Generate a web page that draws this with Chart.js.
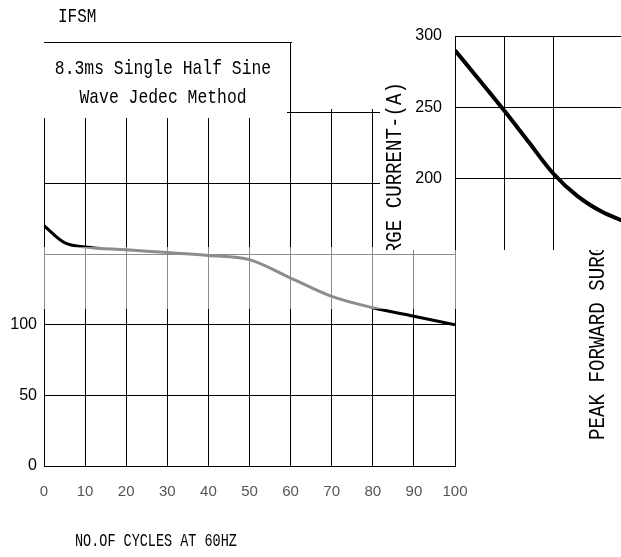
<!DOCTYPE html>
<html>
<head>
<meta charset="utf-8">
<script src="https://cdn.jsdelivr.net/npm/chart.js@4.4.1/dist/chart.umd.min.js"></script>
<style>
	html, body { margin: 0; padding: 0; background: #fff; }
	#wrap { position: relative; width: 621px; height: 557px; overflow: hidden; }
	#main { position: absolute; left: 0; top: 0; }
	#insetBox { position: absolute; left: 380px; top: 0; width: 241px; height: 250px; overflow: hidden; }
</style>
</head>
<body>
<div id="wrap">
	<canvas id="main" width="621" height="557"></canvas>
	<div id="insetBox"><canvas id="inset" width="241" height="273"></canvas></div>
</div>
<script>
const cycles = [0, 5, 10, 20, 30, 40, 50, 60, 70, 80, 90, 100]
const surge = [170, 158, 155, 153, 151, 149, 146, 133, 120, 112, 106, 100]
const yShown = [0, 50, 100] // only these labels survive on the left axis

// upper right piece
const insetCycles = [1, 2, 2.5, 3, 3.5, 4, 4.4]
const insetSurge = [290, 248, 226, 204, 188, 177, 171]
const insetYShown = [200, 250, 300]

const boxLines = ['8.3ms Single Half Sine', 'Wave Jedec Method']
const yTitle = 'PEAK FORWARD SURGE CURRENT-(A)'
const xTitle = 'NO.OF CYCLES AT 60HZ'
const topLabel = 'IFSM'

const mono = 'Liberation Mono'
const sans = 'Liberation Sans'

// narrow serif text like the scanned sheet
function narrowText(ctx, text, x, y, size, squeeze, align, angle) {
	ctx.save()
	ctx.translate(x, y)
	if (angle) ctx.rotate(angle)
	ctx.scale(squeeze, 1)
	ctx.font = size + 'px "' + mono + '"'
	ctx.fillStyle = '#000'
	ctx.textAlign = align
	ctx.textBaseline = 'middle'
	ctx.fillText(text, 0, 0)
	ctx.restore()
}

const mainDecor = {
	id: 'mainDecor',
	beforeDatasetsDraw(chart) {
		const ctx = chart.ctx
		ctx.save()
		ctx.fillStyle = '#fff'
		ctx.fillRect(40, 43, 247, 75) // note box
		ctx.fillRect(292, 38, 90, 71) // blank corner next to it
		ctx.restore()
		narrowText(ctx, boxLines[0], 163, 68, 21, 0.78, 'center')
		narrowText(ctx, boxLines[1], 163, 97, 21, 0.78, 'center')
	},
	afterDatasetsDraw(chart) {
		const ctx = chart.ctx
		ctx.save()
		ctx.fillStyle = 'rgba(255,255,255,0.55)' // faded band across the middle
		ctx.fillRect(0, 247, 621, 62)
		ctx.restore()
	},
	afterDraw(chart) {
		const ctx = chart.ctx
		narrowText(ctx, yTitle, 598, 440, 22, 0.87, 'left', -Math.PI / 2)
		narrowText(ctx, xTitle, 75, 541, 19, 0.71, 'left')
		narrowText(ctx, topLabel, 58, 17, 20, 0.8, 'left')
	}
}

const insetDecor = {
	id: 'insetDecor',
	beforeDraw(chart) {
		const ctx = chart.ctx
		ctx.save()
		ctx.fillStyle = '#fff'
		ctx.fillRect(0, 0, chart.width, chart.height)
		ctx.restore()
	},
	afterDraw(chart) {
		narrowText(chart.ctx, yTitle, 15, 82, 22, 0.87, 'right', -Math.PI / 2)
	}
}

document.addEventListener('DOMContentLoaded', function() {
	new Chart(document.getElementById('main').getContext('2d'), {
		type: 'line',
		data: {
			datasets: [{
				data: cycles.map((c, i) => ({ x: c, y: surge[i] })),
				borderColor: '#000',
				borderWidth: 3,
				pointRadius: 0,
				cubicInterpolationMode: 'monotone'
			}]
		},
		options: {
			responsive: false,
			animation: false,
			layout: { padding: { left: 0, right: 166, top: 42, bottom: 0 } },
			plugins: { legend: { display: false }, tooltip: { enabled: false } },
			scales: {
				x: {
					type: 'linear',
					min: 0,
					max: 100,
					ticks: { stepSize: 10, padding: 17, color: '#555', font: { family: sans, size: 15 }, maxRotation: 0 },
					grid: { color: '#000', lineWidth: 1, drawTicks: false },
					border: { color: '#000' },
					afterFit: s => { s.height = 91 }
				},
				y: {
					min: 0,
					max: 300,
					ticks: {
						stepSize: 50,
						padding: 7,
						color: '#000',
						font: { family: sans, size: 16 },
						callback: v => yShown.includes(v) ? v : ''
					},
					grid: { color: '#000', lineWidth: 1, drawTicks: false },
					border: { color: '#000' },
					afterFit: s => { s.width = 44 }
				}
			}
		},
		plugins: [mainDecor]
	})

	new Chart(document.getElementById('inset').getContext('2d'), {
		type: 'line',
		data: {
			datasets: [{
				data: insetCycles.map((c, i) => ({ x: c, y: insetSurge[i] })),
				borderColor: '#000',
				borderWidth: 4,
				pointRadius: 0,
				cubicInterpolationMode: 'monotone'
			}]
		},
		options: {
			responsive: false,
			animation: false,
			layout: { padding: { left: 0, right: 0, top: 36, bottom: 0 } },
			plugins: { legend: { display: false }, tooltip: { enabled: false } },
			scales: {
				x: {
					type: 'linear',
					min: 1,
					max: 1 + 166 / 49,
					ticks: { display: false, stepSize: 1 },
					grid: { color: '#000', lineWidth: 1, drawTicks: false },
					border: { color: '#000' },
					afterFit: s => { s.height = 3 }
				},
				y: {
					min: 150,
					max: 300,
					ticks: {
						stepSize: 50,
						padding: 13,
						color: '#000',
						font: { family: sans, size: 16 },
						callback: v => insetYShown.includes(v) ? v : ''
					},
					grid: { color: '#000', lineWidth: 1, drawTicks: false },
					border: { color: '#000' },
					afterFit: s => { s.width = 75 }
				}
			}
		},
		plugins: [insetDecor]
	})
})
</script>
</body>
</html>
